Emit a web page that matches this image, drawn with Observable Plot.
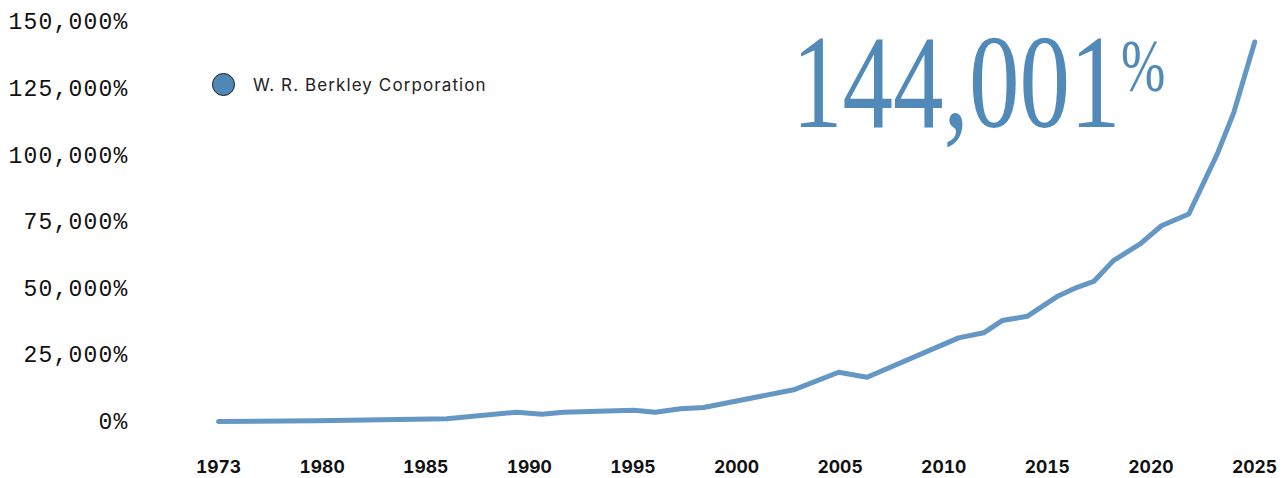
<!DOCTYPE html>
<html>
<head>
<meta charset="utf-8">
<script src="https://cdn.jsdelivr.net/npm/d3@7"></script>
<script src="https://cdn.jsdelivr.net/npm/@observablehq/plot@0.6"></script>
<style>
  html, body { margin: 0; padding: 0; background: #fff; }
  #wrap { position: relative; width: 1283px; height: 478px; overflow: hidden; }
  #chart svg [aria-label="y-axis tick label"] { font-family: "Liberation Mono", monospace; font-size: 23px; letter-spacing: 1.2px; fill: #111; }
  #chart svg [aria-label="x-axis tick label"] { font-family: "Inter", sans-serif; font-size: 17.5px; font-weight: 700; fill: #111; }
  #legend { position: absolute; left: 212px; top: 73px; display: flex; align-items: center; font-family: Inter, sans-serif; font-size: 17px; letter-spacing: 1.1px; color: #222; white-space: nowrap; }
  #legend .sw { width: 23px; height: 23px; border-radius: 50%; background: #4f87b6; border: 1px solid #1a1a1a; box-sizing: border-box; margin-right: 18px; }
  #big { position: absolute; left: 792px; top: 16px; font-family: "Liberation Serif", serif; font-size: 133px; line-height: 133px; color: #5189b9; transform: scaleX(0.76); transform-origin: left top; white-space: nowrap; }
  #pct { position: absolute; left: 1121px; top: 29px; font-family: "Liberation Serif", serif; font-size: 74px; line-height: 74px; color: #5189b9; transform: scaleX(0.72); transform-origin: left top; }
</style>
</head>
<body>
<div id="wrap">
  <div id="chart"></div>
  <div id="legend"><span class="sw"></span><span>W. R. Berkley Corporation</span></div>
  <div id="big">144,001</div>
  <div id="pct">%</div>
</div>
<script>
// Data (cumulative total return, %)
const years = [1973, 1979.6, 1986.02, 1989.40, 1990.61, 1991.65, 1995.03, 1996.08, 1997.29, 1998.41,
  2002.76, 2004.93, 2006.30, 2010.72, 2011.93, 2012.82, 2014.03, 2015.47, 2016.44, 2017.24,
  2018.19, 2019.50, 2020.51, 2021.83, 2023.20, 2024.00, 2025.01];
const returns = [0, 300, 1000, 3500, 2700, 3500, 4200, 3500, 4800, 5250,
  11900, 18500, 16600, 31400, 33300, 37900, 39500, 46900, 50400, 52600,
  60400, 66750, 73500, 77900, 100400, 116000, 142500];
const xTicks = [1973, 1980, 1985, 1990, 1995, 2000, 2005, 2010, 2015, 2020, 2025];
const yTicks = [0, 25000, 50000, 75000, 100000, 125000, 150000];

// the axis compresses 1973–1980 into the same width as a five-year step
const axisPos = y => (y < 1980 ? 1975 + (y - 1973) * 5 / 7 : y);

const data = years.map((y, i) => ({year: y, pos: axisPos(y), value: returns[i]}));
const tickPos = xTicks.map(axisPos);
const tickLabel = new Map(tickPos.map((p, i) => [p, String(xTicks[i])]));

const W = 1283, H = 478;

const chart = Plot.plot({
  width: W,
  height: H,
  marginLeft: 218,
  marginRight: 29,
  marginTop: 21.5,
  marginBottom: 57,
  style: {background: "#fff", overflow: "visible"},
  x: {type: "linear", domain: [tickPos[0], tickPos[tickPos.length - 1]]},
  y: {domain: [0, 150000]},
  marks: [
    Plot.axisY({
      ticks: yTicks,
      tickSize: 0,
      tickPadding: 90,
      tickFormat: d => d3.format(",")(d) + "%",
      label: null
    }),
    Plot.axisX({
      ticks: tickPos,
      tickSize: 0,
      tickPadding: 39,
      tickFormat: d => tickLabel.get(d),
      label: null
    }),
    Plot.line(data, {
      x: "pos",
      y: "value",
      stroke: "#6497c3",
      strokeWidth: 5,
      strokeLinecap: "round",
      strokeLinejoin: "round",
      clip: false
    })
  ]
});
document.getElementById("chart").appendChild(chart);
</script>
</body>
</html>
